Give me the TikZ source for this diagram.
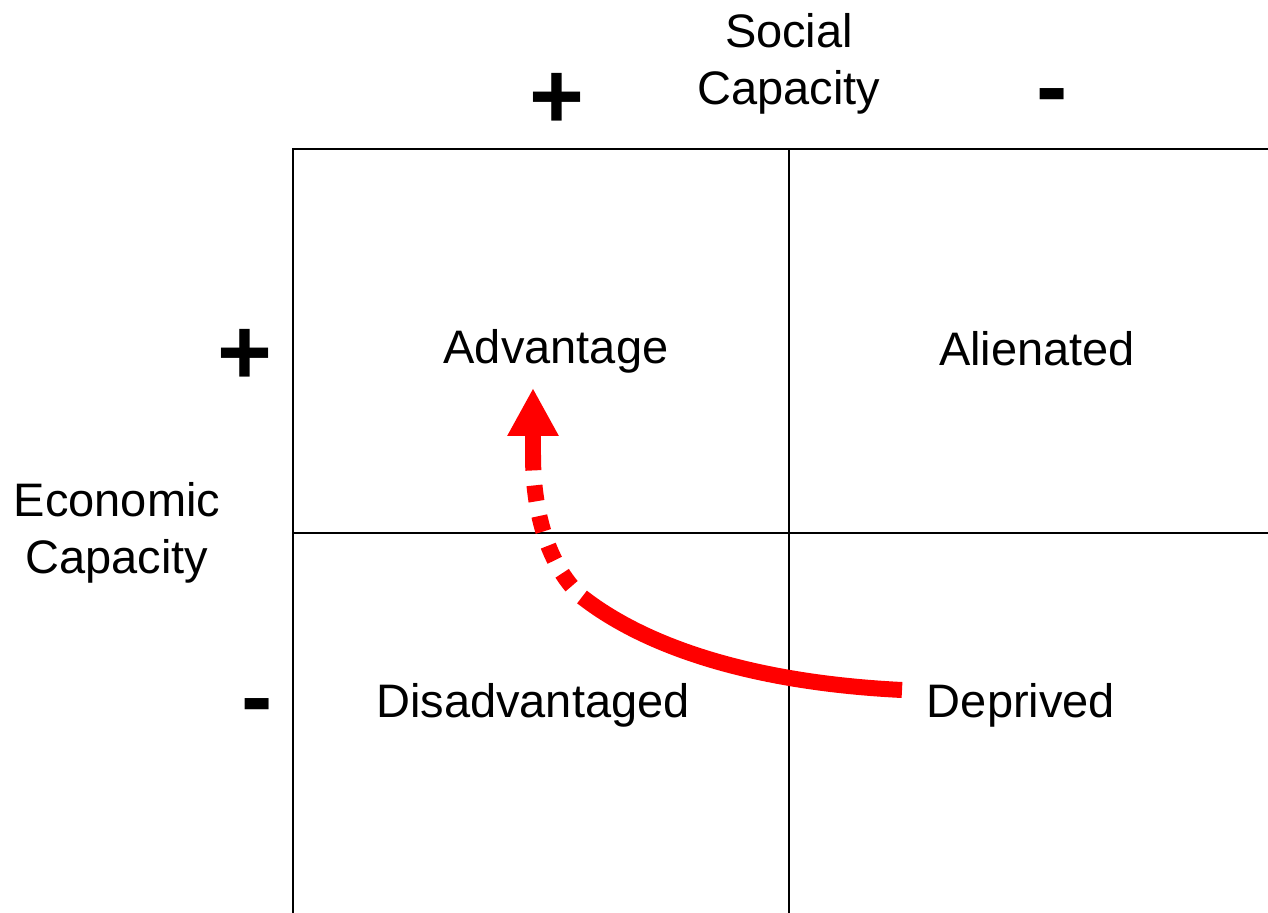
\documentclass[tikz,border=0pt]{standalone}
\usepackage{fontspec}
\setmainfont{Liberation Sans}
\usetikzlibrary{arrows.meta}

\begin{document}
\begin{tikzpicture}[x=0.5pt,y=-0.5pt]

\tikzstyle{gridLine}=[line width=1pt,black]
\tikzstyle{label}=[inner sep=0pt,align=center,font=\fontsize{23.5}{28.5}\selectfont]
\tikzstyle{cellLabel}=[label,anchor=base]
\tikzstyle{sign}=[inner sep=0pt,anchor=base,font=\fontsize{47}{47}\selectfont\bfseries]
\tikzstyle{moveLine}=[line width=8pt,red]

\useasboundingbox (0,0) rectangle (1268,913);

%Axis Marks
\node[label] (socialLabel)   at (789,64)  {Social\\Capacity};
\node[label] (economicLabel) at (117,533) {Economic\\Capacity};
\node[sign] (socialPlus)    at (557,129)  {+};
\node[sign] (socialMinus)   at (1052,119) {-};
\node[sign] (economicPlus)  at (245,385)  {+};
\node[sign] (economicMinus) at (257,728)  {-};

% grid
\draw[gridLine] (293,913) -- (293,149) -- (1268,149);
\draw[gridLine] (789,149) -- (789,913);
\draw[gridLine] (293,533) -- (1268,533);

% cells
\node[cellLabel] (advantage)      at (556,364)  {Advantage};
\node[cellLabel] (alienated)      at (1037,366) {Alienated};
\node[cellLabel] (disadvantaged)  at (533,717)  {Disadvantaged};
\node[cellLabel] (deprived)       at (1021,717) {Deprived};

% movement
\coordinate (arrowStart) at (902,690);
\coordinate (arrowBend)  at (582,597);
\coordinate (arrowStem)  at (533,455);
\coordinate (arrowTip)   at (533,388);

\draw[moveLine] (arrowStart) .. controls (760,683) and (650,650) .. (arrowBend);
\draw[moveLine,dash pattern=on 8pt off 7.5pt,dash phase=8pt] (arrowBend) .. controls (552,570) and (533,520) .. (arrowStem);
\draw[moveLine,-{Triangle[length=24pt,width=24pt]}] (arrowStem) -- (arrowTip);

\end{tikzpicture}
\end{document}
